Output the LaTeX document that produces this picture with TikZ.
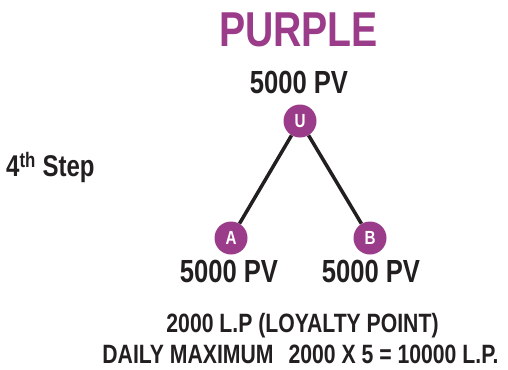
\documentclass[tikz,border=0pt]{standalone}
\usepackage{fontspec}
\setmainfont[FakeStretch=0.8]{Liberation Sans}
\definecolor{grape}{RGB}{155,60,138}
\definecolor{ink}{RGB}{35,31,32}
\begin{document}
\begin{tikzpicture}[x=1pt,y=-1pt,
    member/.style={circle,fill=grape,text=white,inner sep=0pt,minimum size=33pt,
      font=\bfseries\fontsize{19}{19}\selectfont},
    pv/.style={anchor=base,inner sep=0pt,text=ink,font=\bfseries\fontsize{32}{32}\selectfont},
    note/.style={anchor=base,inner sep=0pt,text=ink,font=\bfseries\fontsize{26.5}{26.5}\selectfont}]
  \useasboundingbox (0,0) rectangle (508,369);
  \draw
    (298.5,47) node[anchor=base,inner sep=0pt,text=grape,font=\bfseries\fontsize{49}{49}\selectfont] (title){PURPLE}
    (6,176.5) node[anchor=base west,inner sep=0pt,text=ink,font=\bfseries\fontsize{30}{30}\selectfont] (step){4\textsuperscript{th} Step}
    (300,121) node[member] (U){U}
    (231,238) node[member] (A){A}
    (370,238) node[member] (B){B}
    (299,93) node[pv] (pvU){5000 PV}
    (229,282) node[pv] (pvA){5000 PV}
    (371,282) node[pv] (pvB){5000 PV}
    (302.5,332) node[note] (lp){2000 L.P (LOYALTY POINT)}
    (300.5,363) node[note] (daily){DAILY MAXIMUM\hspace{15pt}2000 X 5 = 10000 L.P.};
  \begin{scope}[line width=3.5pt,ink]
    \draw (U) to (A);
    \draw (U) to (B);
  \end{scope}
\end{tikzpicture}
\end{document}
